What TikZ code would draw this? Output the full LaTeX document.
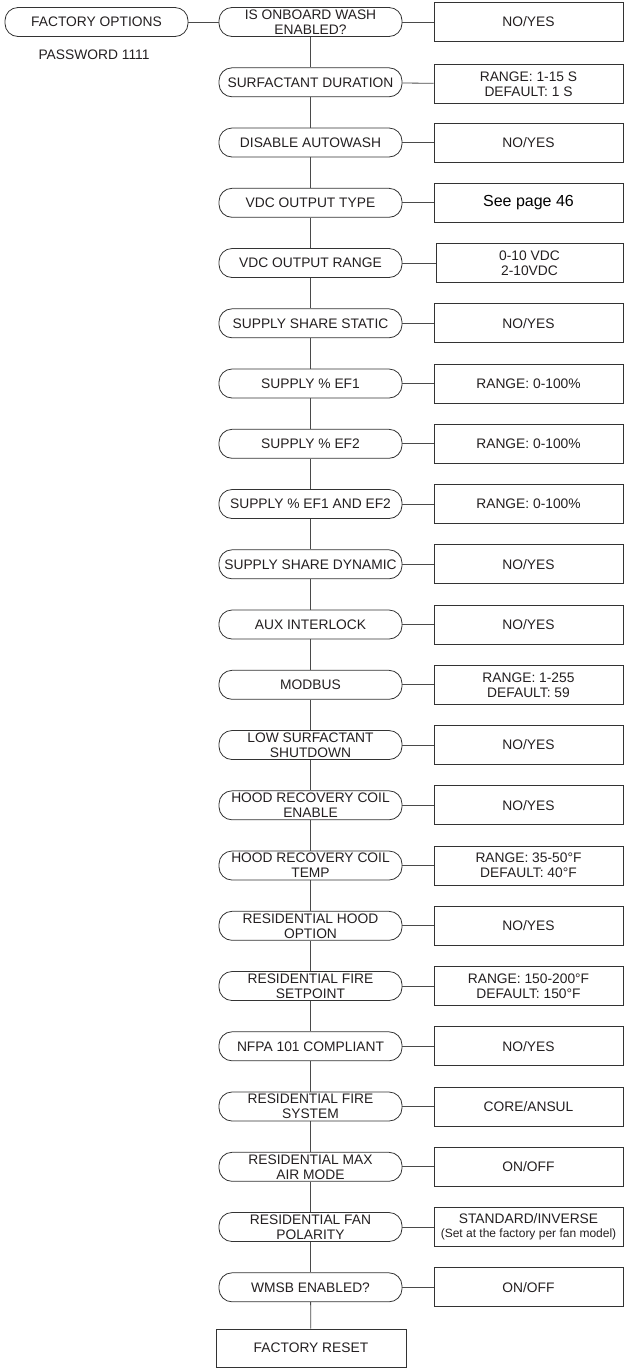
\documentclass[tikz,border=0pt]{standalone}
\usepackage{fontspec}
\setmainfont{Liberation Sans}
\definecolor{linec}{HTML}{4A4A4A}
\definecolor{boxc}{HTML}{333333}
\definecolor{txt}{HTML}{231F20}
\newcommand{\fsn}{\fontsize{13.8}{15}\selectfont}
\tikzset{
  pill/.style={draw=boxc, line width=0.8pt, rounded corners=13pt, minimum width=183pt, minimum height=29pt, inner sep=0pt, align=center, text=txt, font=\fsn},
  valbox/.style={draw=boxc, line width=0.8pt, minimum width=189pt, minimum height=39pt, inner sep=0pt, align=center, text=txt, font=\fsn},
  link/.style={draw=linec, line width=0.8pt}
}
\begin{document}
\begin{tikzpicture}[x=1pt,y=-1pt]
\useasboundingbox (0,0) rectangle (625,1369);
% left
\node[pill, minimum width=183pt] (fo) at (96.5,22) {FACTORY OPTIONS};
\node[text=txt, font=\fsn] (pw) at (94,55) {PASSWORD 1111};
% pills
\node[pill] (p0) at (310.5,22) {IS ONBOARD WASH\\ENABLED?};
\node[pill] (p1) at (310.5,82.3) {SURFACTANT DURATION};
\node[pill] (p2) at (310.5,142.5) {DISABLE AUTOWASH};
\node[pill] (p3) at (310.5,202.8) {VDC OUTPUT TYPE};
\node[pill] (p4) at (310.5,263) {VDC OUTPUT RANGE};
\node[pill] (p5) at (310.5,323.3) {SUPPLY SHARE STATIC};
\node[pill] (p6) at (310.5,383.5) {SUPPLY \% EF1};
\node[pill] (p7) at (310.5,443.8) {SUPPLY \% EF2};
\node[pill] (p8) at (310.5,504) {SUPPLY \% EF1 AND EF2};
\node[pill] (p9) at (310.5,564.3) {SUPPLY SHARE DYNAMIC};
\node[pill] (p10) at (310.5,624.5) {AUX INTERLOCK};
\node[pill] (p11) at (310.5,684.8) {MODBUS};
\node[pill] (p12) at (310.5,745) {LOW SURFACTANT\\SHUTDOWN};
\node[pill] (p13) at (310.5,805.3) {HOOD RECOVERY COIL\\ENABLE};
\node[pill] (p14) at (310.5,865.5) {HOOD RECOVERY COIL\\TEMP};
\node[pill] (p15) at (310.5,925.8) {RESIDENTIAL HOOD\\OPTION};
\node[pill] (p16) at (310.5,986) {RESIDENTIAL FIRE\\SETPOINT};
\node[pill] (p17) at (310.5,1046.3) {NFPA 101 COMPLIANT};
\node[pill] (p18) at (310.5,1106.5) {RESIDENTIAL FIRE\\SYSTEM};
\node[pill] (p19) at (310.5,1166.8) {RESIDENTIAL MAX\\AIR MODE};
\node[pill] (p20) at (310.5,1227) {RESIDENTIAL FAN\\POLARITY};
\node[pill] (p21) at (310.5,1287.3) {WMSB ENABLED?};
\node[draw=boxc, line width=0.8pt, minimum width=190pt, minimum height=38pt, inner sep=0pt, text=txt, font=\fsn] (rst) at (311,1348) {FACTORY RESET};
% value boxes
\node[valbox] (b0) at (528.5,22) {NO/YES};
\node[valbox] (b1) at (528.5,84) {RANGE: 1-15 S\\DEFAULT: 1 S};
\node[valbox] (b2) at (528.5,142.5) {NO/YES};
\node[valbox] (b3) at (528.5,202.8) {\fontsize{16}{18}\selectfont\color{black}See page 46};
\node[valbox, minimum width=187pt] (b4) at (529.5,263) {0-10 VDC\\2-10VDC};
\node[valbox] (b5) at (528.5,323.3) {NO/YES};
\node[valbox] (b6) at (528.5,383.5) {RANGE: 0-100\%};
\node[valbox] (b7) at (528.5,443.8) {RANGE: 0-100\%};
\node[valbox] (b8) at (528.5,504) {RANGE: 0-100\%};
\node[valbox] (b9) at (528.5,564.3) {NO/YES};
\node[valbox] (b10) at (528.5,624.5) {NO/YES};
\node[valbox] (b11) at (528.5,684.8) {RANGE: 1-255\\DEFAULT: 59};
\node[valbox] (b12) at (528.5,745) {NO/YES};
\node[valbox] (b13) at (528.5,805.3) {NO/YES};
\node[valbox] (b14) at (528.5,865.5) {RANGE: 35-50°F\\DEFAULT: 40°F};
\node[valbox] (b15) at (528.5,925.8) {NO/YES};
\node[valbox] (b16) at (528.5,986) {RANGE: 150-200°F\\DEFAULT: 150°F};
\node[valbox] (b17) at (528.5,1046.3) {NO/YES};
\node[valbox] (b18) at (528.5,1106.5) {CORE/ANSUL};
\node[valbox] (b19) at (528.5,1166.8) {ON/OFF};
\node[valbox] (b20) at (528.5,1227) {STANDARD/INVERSE\\[-1pt]{\fontsize{12}{13}\selectfont(Set at the factory per fan model)}};
\node[valbox] (b21) at (528.5,1287.3) {ON/OFF};
% connectors
\draw[link] (fo) -- (p0);
\foreach \i in {0,...,21} { \draw[link] (p\i) -- (b\i); }
\foreach \i [evaluate=\i as \j using int(\i+1)] in {0,...,20} { \draw[link] (p\i) -- (p\j); }
\draw[link] (p21) -- (rst);
\end{tikzpicture}
\end{document}
